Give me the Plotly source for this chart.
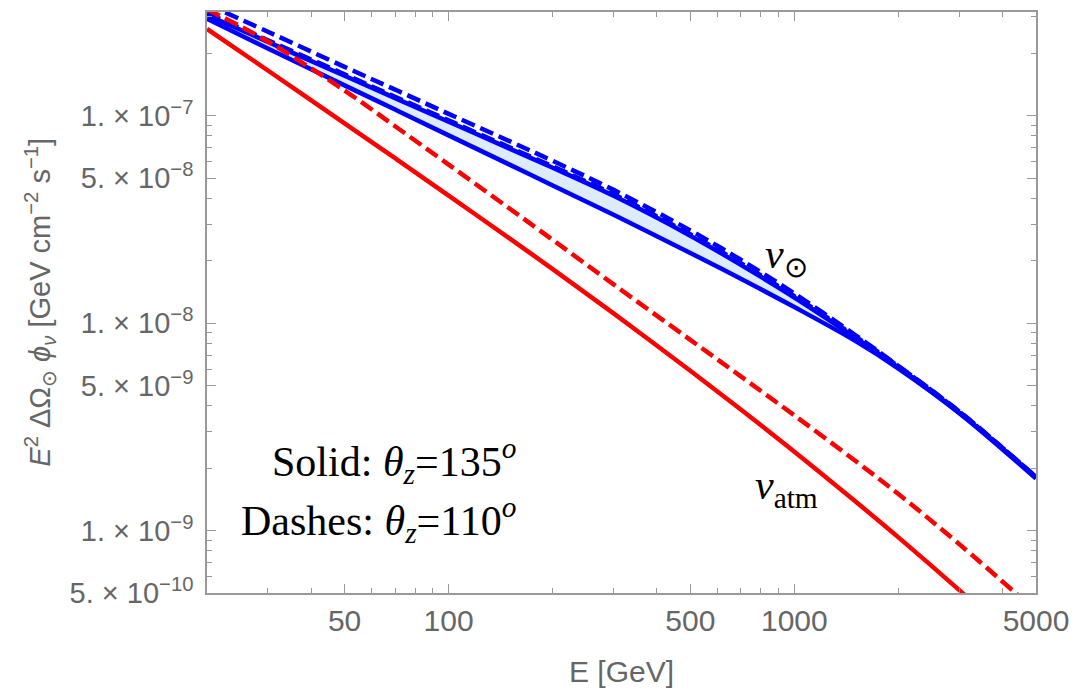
import plotly.graph_objects as go

# ---------------- data ----------------
energy = [20, 30, 50, 70, 100, 150, 200, 300, 500, 700, 1000, 1500, 2000, 3000, 5000]

sun_solid_lower = [2.93e-7, 2.11e-7, 1.40e-7, 1.071e-7, 8.04e-8, 5.81e-8, 4.61e-8, 3.33e-8,
                   2.18e-8, 1.636e-8, 1.195e-8, 8.21e-9, 6.04e-9, 3.68e-9, 1.78e-9]
sun_solid_upper = [3.06e-7, 2.27e-7, 1.558e-7, 1.216e-7, 9.35e-8, 6.94e-8, 5.61e-8, 4.11e-8,
                   2.64e-8, 1.91e-8, 1.329e-8, 8.52e-9, 6.11e-9, 3.70e-9, 1.805e-9]
sun_dash_upper = [3.45e-7, 2.54e-7, 1.72e-7, 1.336e-7, 1.021e-7, 7.54e-8, 6.06e-8, 4.39e-8,
                  2.80e-8, 2.02e-8, 1.389e-8, 8.76e-9, 6.21e-9, 3.74e-9, 1.815e-9]
sun_dash_lower = [3.13e-7, 2.31e-7, 1.584e-7, 1.235e-7, 9.49e-8, 7.04e-8, 5.70e-8, 4.18e-8,
                  2.68e-8, 1.944e-8, 1.349e-8, 8.64e-9, 6.19e-9, 3.75e-9, 1.81e-9]

atm_solid = [2.62e-7, 1.652e-7, 9.19e-8, 6.24e-8, 4.12e-8, 2.56e-8, 1.82e-8, 1.114e-8,
             5.89e-9, 3.83e-9, 2.40e-9, 1.384e-9, 9.27e-10, 5.16e-10, 2.40e-10]
atm_dash = [3.26e-7, 2.28e-7, 1.323e-7, 8.90e-8, 5.81e-8, 3.57e-8, 2.52e-8, 1.537e-8,
            8.31e-9, 5.54e-9, 3.59e-9, 2.17e-9, 1.50e-9, 8.60e-10, 4.09e-10]

x_major = [50, 100, 500, 1000, 5000]
x_major_text = ["50", "100", "500", "1000", "5000"]
x_minor = [30, 40, 60, 70, 80, 90, 200, 300, 400, 600, 700, 800, 900, 2000, 3000, 4000]

y_major = [5e-10, 1e-9, 5e-9, 1e-8, 5e-8, 1e-7]
y_major_text = ["5. × 10<sup>−10</sup>", "1. × 10<sup>−9</sup>", "5. × 10<sup>−9</sup>",
                "1. × 10<sup>−8</sup>", "5. × 10<sup>−8</sup>", "1. × 10<sup>−7</sup>"]
y_minor = [6e-10, 7e-10, 8e-10, 9e-10, 2e-9, 3e-9, 4e-9, 6e-9, 7e-9, 8e-9, 9e-9,
           2e-8, 3e-8, 4e-8, 6e-8, 7e-8, 8e-8, 9e-8, 2e-7, 3e-7]

# ---------------- styling ----------------
BLUE = "#0000ff"
RED = "#ff0000"
FILL = "#dcecfd"
FRAME = "#999999"
TXT = "#666666"
LW = 4.5

fig = go.Figure()

# band fill (135 deg)
fig.add_trace(go.Scatter(x=energy, y=sun_solid_lower, mode="lines", line=dict(width=0, shape="spline"),
                         hoverinfo="skip"))
fig.add_trace(go.Scatter(x=energy, y=sun_solid_upper, mode="lines", line=dict(width=0, shape="spline"),
                         fill="tonexty", fillcolor=FILL, hoverinfo="skip"))

# blue lines
fig.add_trace(go.Scatter(x=energy, y=sun_solid_lower, mode="lines",
                         line=dict(color=BLUE, width=LW, shape="spline")))
fig.add_trace(go.Scatter(x=energy, y=sun_solid_upper, mode="lines",
                         line=dict(color=BLUE, width=LW, shape="spline")))
fig.add_trace(go.Scatter(x=energy, y=sun_dash_lower, mode="lines",
                         line=dict(color=BLUE, width=LW, dash="14px,6px", shape="spline")))
fig.add_trace(go.Scatter(x=energy, y=sun_dash_upper, mode="lines",
                         line=dict(color=BLUE, width=LW, dash="14px,6px", shape="spline")))

# red lines
fig.add_trace(go.Scatter(x=energy, y=atm_solid, mode="lines",
                         line=dict(color=RED, width=LW, shape="spline")))
fig.add_trace(go.Scatter(x=energy, y=atm_dash, mode="lines",
                         line=dict(color=RED, width=LW, dash="14px,6px", shape="spline")))

fig.update_xaxes(type="log", range=[1.30103, 3.69897],
                 showline=True, linecolor=FRAME, linewidth=1.5, mirror="allticks",
                 ticks="inside", ticklen=9, tickwidth=1.2, tickcolor=FRAME,
                 tickmode="array", tickvals=x_major, ticktext=x_major_text,
                 tickfont=dict(family="Liberation Sans", size=30, color=TXT), ticklabelstandoff=0,
                 minor=dict(tickmode="array", tickvals=x_minor, ticks="inside", ticklen=5,
                            tickwidth=1.2, tickcolor=FRAME, showgrid=False),
                 showgrid=False, zeroline=False)
fig.update_yaxes(type="log", range=[-9.30103, -6.5],
                 showline=True, linecolor=FRAME, linewidth=1.5, mirror="allticks",
                 ticks="inside", ticklen=9, tickwidth=1.2, tickcolor=FRAME,
                 tickmode="array", tickvals=y_major, ticktext=y_major_text,
                 tickfont=dict(family="Liberation Sans", size=29, color=TXT), ticklabelstandoff=6,
                 minor=dict(tickmode="array", tickvals=y_minor, ticks="inside", ticklen=5,
                            tickwidth=1.2, tickcolor=FRAME, showgrid=False),
                 showgrid=False, zeroline=False)

serif = "Liberation Serif"
annotations = [
    dict(text="E [GeV]", xref="paper", yref="paper", x=0.5, y=-0.1355, xanchor="center", yanchor="middle",
         showarrow=False, font=dict(family="Liberation Sans", size=30, color=TXT)),
    dict(text="<i>E</i><sup>2</sup> ΔΩ<sub>⊙</sub> <i>ϕ</i><sub><i>ν</i></sub> [GeV cm<sup>−2</sup> s<sup>−1</sup>]",
         xref="paper", yref="paper", x=-0.2024, y=0.5, xanchor="center", yanchor="middle",
         textangle=-90, showarrow=False, font=dict(family="Liberation Sans", size=29, color=TXT)),
    dict(text="Solid: <i>θ</i><sub><i>z</i></sub>=135<sup><i>o</i></sup>", xref="paper", yref="paper",
         x=0.3749, y=0.2264, xanchor="right", yanchor="middle", showarrow=False,
         font=dict(family=serif, size=42, color="black")),
    dict(text="Dashes: <i>θ</i><sub><i>z</i></sub>=110<sup><i>o</i></sup>", xref="paper", yref="paper",
         x=0.3749, y=0.1252, xanchor="right", yanchor="middle", showarrow=False,
         font=dict(family=serif, size=42, color="black")),
    dict(text="<i>ν</i><sub>⊙</sub>", xref="paper", yref="paper", x=0.699, y=0.5780,
         xanchor="center", yanchor="middle", showarrow=False,
         font=dict(family=serif, size=42, color="black")),
    dict(text="<i>ν</i><sub>atm</sub>", xref="paper", yref="paper", x=0.6994, y=0.180,
         xanchor="center", yanchor="middle", showarrow=False,
         font=dict(family=serif, size=42, color="black")),
]

fig.update_layout(width=1079, height=693, margin=dict(l=207, r=37, t=10, b=100),
                  paper_bgcolor="white", plot_bgcolor="white", showlegend=False,
                  annotations=annotations)

fig.write_html("out.html")
